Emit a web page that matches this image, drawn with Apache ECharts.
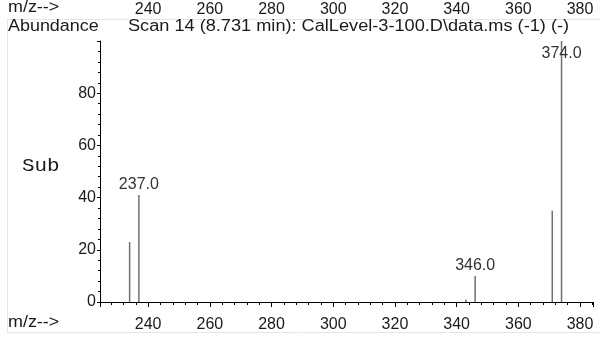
<!DOCTYPE html>
<html>
<head>
<meta charset="utf-8">
<script src="https://cdn.jsdelivr.net/npm/echarts@6/dist/echarts.min.js"></script>
<style>
html,body{margin:0;padding:0;background:#fff;}
#chart{width:600px;height:338px;}
</style>
</head>
<body>
<div id="chart"></div>
<script>
// m/z positions of the peaks
var mzValues = [234, 237, 343, 346, 371, 374];
// relative abundance of each peak
var abundance = [23, 41, 1, 10, 35, 100];
// peaks that carry a label
var labeledPeaks = [237, 346, 374];
var xMin = 224.4, xMax = 384.2;
var yMin = 0, yMax = 100;
var titleText = 'Scan 14 (8.731 min): CalLevel-3-100.D\\data.ms (-1) (-)';

var FONT = '"Liberation Sans", Arial, Helvetica, sans-serif';
var TXT = '#1a1a1a';

var data = mzValues.map(function (mz, i) {
  var d = { value: [mz, abundance[i]] };
  if (labeledPeaks.indexOf(mz) >= 0) {
    d.label = { show: true, formatter: mz.toFixed(1) };
    if (abundance[i] >= 95) {
      d.label.position = 'insideTop';
      d.label.offset = [0, 3];
    }
  }
  return d;
});

function headerText(str, x, y, size, family, sx) {
  return {
    type: 'text', x: x, y: y, scaleX: sx, scaleY: 1,
    style: { text: str, x: 0, y: 0, font: size + 'px ' + family, fill: TXT,
             textAlign: 'left', textVerticalAlign: 'middle' }
  };
}

var chart = echarts.init(document.getElementById('chart'), null, { renderer: 'canvas' });
chart.setOption({
  animation: false,
  backgroundColor: '#fff',
  textStyle: { fontFamily: FONT },
  grid: { left: 100, right: 7, top: 41, bottom: 36 },
  graphic: [
    { type: 'line', shape: { x1: 7, y1: 19.5, x2: 600, y2: 19.5 }, style: { stroke: '#e6e6e6', lineWidth: 1 } },
    { type: 'line', shape: { x1: 7.5, y1: 19, x2: 7.5, y2: 332 }, style: { stroke: '#e6e6e6', lineWidth: 1 } },
    { type: 'line', shape: { x1: 7, y1: 332.5, x2: 600, y2: 332.5 }, style: { stroke: '#e6e6e6', lineWidth: 1 } },
    headerText('m/z-->', 8, 8, 16, FONT, 1.12),
    headerText('Abundance', 8, 27, 16, FONT, 1.12),
    headerText(titleText, 128, 27, 16, FONT, 1.135),
    headerText('Sub', 22, 166, 19, '"Liberation Mono", "Courier New", monospace', 1.1),
    headerText('m/z-->', 8, 323, 16, FONT, 1.12)
  ],
  xAxis: [
    {
      type: 'value', min: xMin, max: xMax, splitNumber: 8, position: 'bottom',
      axisLine: { show: true, onZero: false, lineStyle: { color: '#000', width: 1 } },
      axisTick: { show: true, length: 5, lineStyle: { color: '#000' } },
      minorTick: { show: true, splitNumber: 5, length: 3, lineStyle: { color: '#000' } },
      splitLine: { show: false },
      axisLabel: { showMinLabel: false, showMaxLabel: false, color: TXT, fontSize: 16, margin: 15 }
    },
    {
      type: 'value', min: xMin, max: xMax, splitNumber: 8, position: 'top',
      axisLine: { show: false }, axisTick: { show: false }, splitLine: { show: false },
      axisLabel: { showMinLabel: false, showMaxLabel: false, color: TXT, fontSize: 16, margin: 23 }
    }
  ],
  yAxis: {
    type: 'value', min: yMin, max: yMax, interval: 20,
    axisLine: { show: true, lineStyle: { color: '#000', width: 1 } },
    axisTick: { show: true, length: 3, lineStyle: { color: '#000' } },
    minorTick: { show: true, splitNumber: 5, length: 2, lineStyle: { color: '#000' } },
    splitLine: { show: false },
    axisLabel: { showMaxLabel: false, color: TXT, fontSize: 16, margin: 4 }
  },
  series: [{
    type: 'bar',
    xAxisIndex: 0,
    barWidth: 1.5,
    itemStyle: { color: '#707070' },
    label: { show: false, position: 'top', color: '#333', fontSize: 16, fontFamily: FONT, distance: 2 },
    data: data
  }]
});
</script>
</body>
</html>
